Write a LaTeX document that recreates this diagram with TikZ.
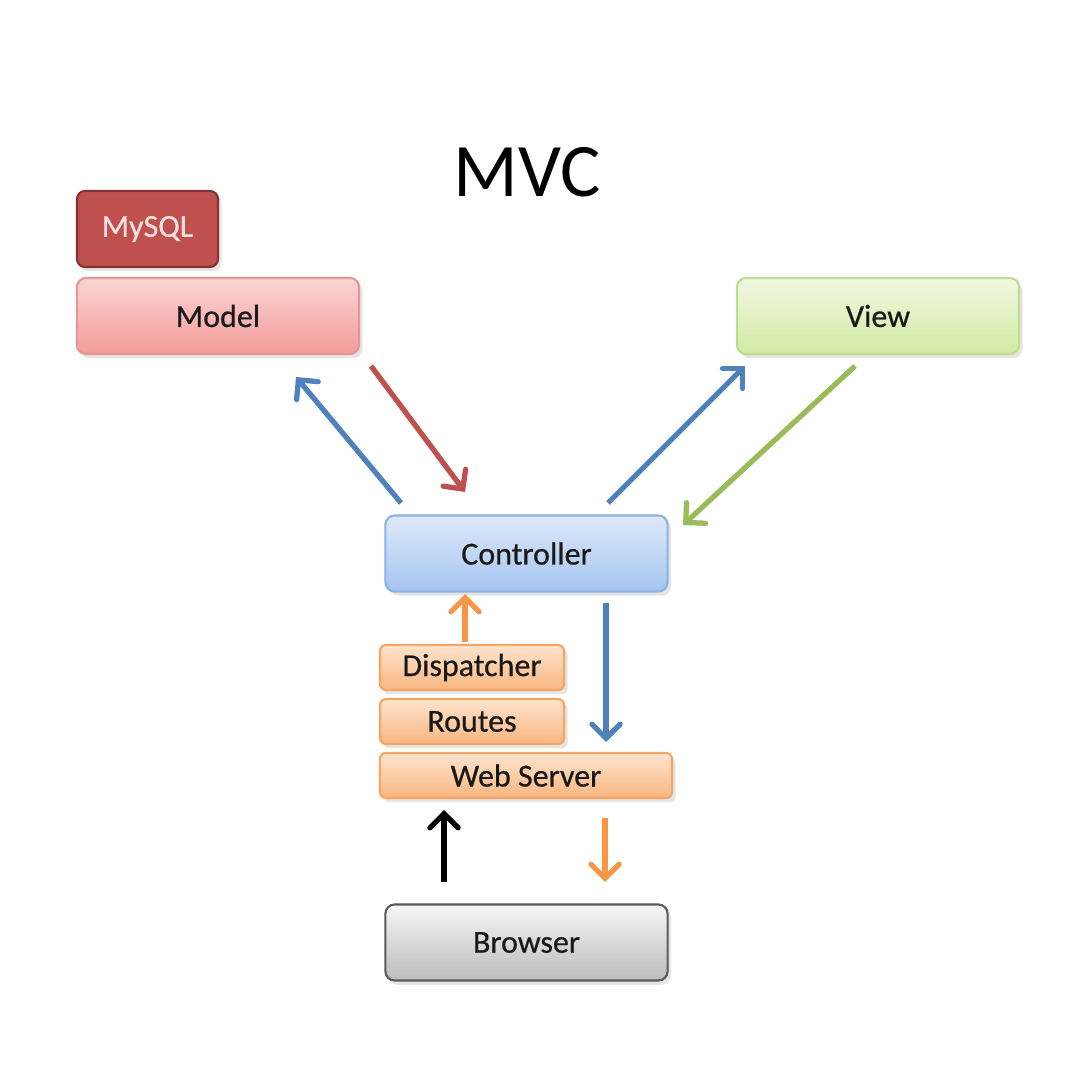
\documentclass[tikz,border=0pt]{standalone}
\usepackage{fontspec}
\setmainfont{Carlito}
\newfontfamily\boxfont[FakeBold=0.6]{Carlito}
\usetikzlibrary{arrows.meta,shadows}
\definecolor{cblue}{RGB}{79,129,189}
\definecolor{cred}{RGB}{192,80,77}
\definecolor{cgreen}{RGB}{155,187,89}
\definecolor{corange}{RGB}{247,150,70}
\tikzset{
  box/.style={rounded corners=2.6pt, draw, line width=0.6pt, font=\boxfont\fontsize{9.1}{11}\selectfont, text=black!90,
     drop shadow={opacity=0.2, shadow xshift=1pt, shadow yshift=-1.2pt}, inner sep=0pt},
  bigbox/.style={box, minimum width=2.82cm, minimum height=0.76cm},
  smallbox/.style={box, rounded corners=1.7pt, minimum height=0.45cm},
  modelbox/.style={bigbox, draw={rgb,255:red,228;green,150;blue,148}, top color={rgb,255:red,251;green,212;blue,211}, bottom color={rgb,255:red,242;green,156;blue,154}},
  viewbox/.style={bigbox, draw={rgb,255:red,190;green,220;blue,140}, top color={rgb,255:red,240;green,248;blue,224}, bottom color={rgb,255:red,210;green,234;blue,164}},
  ctrlbox/.style={bigbox, draw={rgb,255:red,140;green,178;blue,228}, top color={rgb,255:red,222;green,233;blue,249}, bottom color={rgb,255:red,164;green,196;blue,240}},
  brbox/.style={bigbox, draw={rgb,255:red,90;green,90;blue,90}, top color={rgb,255:red,246;green,246;blue,246}, bottom color={rgb,255:red,188;green,188;blue,188}},
  orbox/.style={smallbox, draw={rgb,255:red,245;green,165;blue,100}, top color={rgb,255:red,254;green,228;blue,206}, bottom color={rgb,255:red,249;green,182;blue,128}},
  sqlbox/.style={box, rounded corners=2.3pt, draw={rgb,255:red,130;green,50;blue,48}, fill=cred, text={rgb,255:red,246;green,224;blue,222}, minimum width=1.41cm, minimum height=0.76cm},
  conn/.style={line width=1.5pt, -{Straight Barb[length=4pt,width=8pt,line cap=round]}}
}
\begin{document}
\begin{tikzpicture}[x=0.01cm,y=-0.01cm]
\useasboundingbox[fill=white] (0,0) rectangle (1080,1080);
\node[font=\fontsize{21.5}{24}\selectfont] (title) at (527,172) {MVC};
\node[sqlbox] (mysql) at (147.5,229) {MySQL};
\node[modelbox] (model) at (218,316) {Model};
\node[viewbox] (view) at (878,316) {View};
\node[ctrlbox] (ctrl) at (526.5,553.5) {Controller};
\node[orbox, minimum width=1.84cm] (disp) at (472,667.5) {Dispatcher};
\node[orbox, minimum width=1.84cm] (routes) at (472,721.5) {Routes};
\node[orbox, minimum width=2.92cm] (web) at (526,775.5) {Web Server};
\node[brbox] (browser) at (526.5,942.5) {Browser};
% arrow end points
\coordinate (a1) at (401,503); \coordinate (b1) at (296,377);
\coordinate (a2) at (371,366); \coordinate (b2) at (465,492);
\coordinate (a3) at (608,503); \coordinate (b3) at (745,366);
\coordinate (a4) at (855,366); \coordinate (b4) at (683,525);
\coordinate (a5) at (465,642); \coordinate (b5) at (465,594);
\coordinate (a6) at (606,603); \coordinate (b6) at (606,742);
\coordinate (a7) at (444,882); \coordinate (b7) at (444,810);
\coordinate (a8) at (605,818); \coordinate (b8) at (605,882);
\draw[conn, cblue] (a1) -- (b1);
\draw[conn, cred] (a2) -- (b2);
\draw[conn, cblue] (a3) -- (b3);
\draw[conn, cgreen] (a4) -- (b4);
\draw[conn, corange] (a5) -- (b5);
\draw[conn, cblue] (a6) -- (b6);
\draw[conn, black] (a7) -- (b7);
\draw[conn, corange] (a8) -- (b8);
\end{tikzpicture}
\end{document}
